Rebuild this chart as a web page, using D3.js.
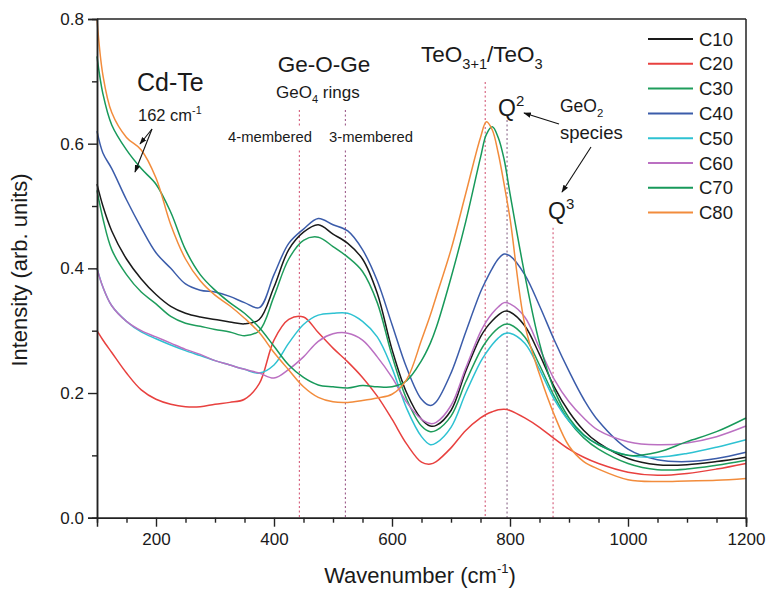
<!DOCTYPE html>
<html><head><meta charset="utf-8">
<script src="https://cdn.jsdelivr.net/npm/d3@7/dist/d3.min.js"></script>
<style>body{margin:0;background:#fff}text{font-family:"Liberation Sans",Arial,sans-serif;fill:#1a1a1a}</style>
</head><body><svg id="c" width="767" height="596"></svg>
<script>
const wavenumber = [100,110,125,150,175,200,225,250,275,300,325,350,375,400,425,450,475,500,525,550,575,600,625,650,665,675,700,725,750,760,770,780,790,800,825,850,875,900,925,950,1000,1050,1100,1150,1200];
const C10 = [0.535,0.50,0.46,0.415,0.383,0.358,0.339,0.328,0.322,0.318,0.314,0.311,0.318,0.37,0.43,0.458,0.47,0.455,0.44,0.415,0.36,0.27,0.2,0.158,0.147,0.148,0.172,0.235,0.29,0.305,0.316,0.325,0.331,0.33,0.308,0.262,0.21,0.17,0.14,0.12,0.095,0.085,0.085,0.09,0.097];
const C20 = [0.30,0.285,0.265,0.232,0.205,0.19,0.182,0.178,0.178,0.182,0.185,0.19,0.215,0.285,0.318,0.322,0.297,0.272,0.25,0.225,0.195,0.158,0.118,0.089,0.086,0.09,0.112,0.14,0.16,0.166,0.17,0.173,0.174,0.172,0.16,0.145,0.127,0.11,0.097,0.087,0.073,0.068,0.071,0.078,0.087];
const C30 = [0.525,0.48,0.43,0.39,0.362,0.343,0.323,0.312,0.307,0.302,0.298,0.292,0.30,0.355,0.415,0.445,0.45,0.435,0.418,0.395,0.345,0.26,0.19,0.147,0.138,0.14,0.163,0.218,0.268,0.283,0.295,0.304,0.31,0.31,0.29,0.245,0.195,0.155,0.128,0.11,0.087,0.077,0.078,0.084,0.092];
const C40 = [0.62,0.585,0.56,0.51,0.465,0.425,0.40,0.375,0.365,0.362,0.355,0.345,0.337,0.39,0.44,0.463,0.48,0.47,0.46,0.43,0.38,0.31,0.24,0.19,0.18,0.186,0.232,0.298,0.362,0.382,0.40,0.415,0.423,0.42,0.39,0.34,0.285,0.235,0.19,0.155,0.11,0.093,0.09,0.095,0.105];
const C50 = [0.40,0.37,0.34,0.315,0.298,0.287,0.277,0.268,0.26,0.252,0.245,0.238,0.232,0.245,0.28,0.31,0.325,0.328,0.328,0.315,0.29,0.24,0.175,0.13,0.117,0.12,0.145,0.20,0.25,0.265,0.278,0.288,0.295,0.296,0.28,0.238,0.19,0.155,0.132,0.117,0.10,0.097,0.103,0.113,0.125];
const C60 = [0.40,0.37,0.34,0.315,0.30,0.29,0.28,0.27,0.262,0.252,0.245,0.238,0.232,0.224,0.238,0.258,0.283,0.295,0.296,0.285,0.258,0.225,0.185,0.158,0.151,0.153,0.18,0.24,0.298,0.315,0.328,0.338,0.345,0.343,0.322,0.272,0.222,0.186,0.16,0.14,0.122,0.117,0.12,0.13,0.147];
const C70 = [0.74,0.68,0.63,0.59,0.56,0.535,0.49,0.43,0.39,0.365,0.345,0.328,0.305,0.275,0.245,0.225,0.213,0.21,0.208,0.212,0.21,0.21,0.22,0.252,0.28,0.305,0.385,0.475,0.578,0.615,0.627,0.61,0.575,0.52,0.39,0.28,0.205,0.16,0.133,0.117,0.10,0.105,0.122,0.138,0.16];
const C80 = [0.80,0.71,0.65,0.61,0.59,0.545,0.47,0.415,0.38,0.357,0.34,0.32,0.297,0.265,0.237,0.21,0.193,0.186,0.185,0.188,0.192,0.198,0.222,0.285,0.325,0.355,0.43,0.52,0.61,0.635,0.622,0.585,0.535,0.48,0.31,0.23,0.165,0.115,0.09,0.078,0.061,0.058,0.059,0.06,0.063];
const seriesNames = ["C10","C20","C30","C40","C50","C60","C70","C80"];
const seriesColors = ["#1a1a1a","#e8413f","#1f9d5c","#3b5caa","#2ec2d2","#bb70c2","#17995a","#f28c3c"];
const xMajorTicks = [200,400,600,800,1000,1200];
const yMajorTicks = [0.0,0.2,0.4,0.6,0.8];
const markerLines = [443,521,758,795,873];

const series = [C10,C20,C30,C40,C50,C60,C70,C80];
const svg = d3.select("#c");
const L=97,R=746,T=19,B=517.7;
const x = d3.scaleLinear().domain([100,1200]).range([L,R]);
const y = d3.scaleLinear().domain([0,0.8]).range([B,T]);

// marker dotted lines
const mk = [
 {v:markerLines[0], segs:[[0.654,0.625],[0.589,0]], c:"#d45a78"},
 {v:markerLines[1], segs:[[0.654,0.625],[0.589,0]], c:"#9c5a88"},
 {v:markerLines[2], segs:[[0.699,0]], c:"#d45a78"},
 {v:markerLines[3], segs:[[0.638,0]], c:"#8c6a8a"},
 {v:markerLines[4], segs:[[0.465,0]], c:"#d45a78"}];
mk.forEach(m=>m.segs.forEach(s=>{
  svg.append("line").attr("x1",x(m.v)).attr("x2",x(m.v)).attr("y1",y(s[0])).attr("y2",y(s[1]))
   .attr("stroke",m.c).attr("stroke-width",1.1).attr("stroke-dasharray","2,2.5");
}));

// curves
const line = d3.line().x((d,i)=>x(wavenumber[i])).y(d=>y(d)).curve(d3.curveCatmullRom.alpha(0.5));
series.forEach((s,k)=>{
  svg.append("path").attr("d",line(s)).attr("fill","none").attr("stroke",seriesColors[k]).attr("stroke-width",1.5);
});

// frame
svg.append("line").attr("x1",L).attr("x2",R).attr("y1",T).attr("y2",T).attr("stroke","#222").attr("stroke-width",1.5);
svg.append("line").attr("x1",R).attr("x2",R).attr("y1",T).attr("y2",B).attr("stroke","#222").attr("stroke-width",1.5);

// axes
const minorX = d3.range(150,1200,50).filter(v=>!xMajorTicks.includes(v));
const gx = svg.append("g").attr("transform",`translate(0,${B})`);
gx.call(d3.axisBottom(x).tickValues(minorX).tickSize(5).tickFormat(""));
const gx2 = svg.append("g").attr("transform",`translate(0,${B})`);
gx2.call(d3.axisBottom(x).tickValues(xMajorTicks).tickSize(9).tickPadding(6).tickFormat(d3.format("d")));
const minorY = [0.1,0.3,0.5,0.7];
const gy = svg.append("g").attr("transform",`translate(${L},0)`);
gy.call(d3.axisLeft(y).tickValues(minorY).tickSize(5).tickFormat(""));
const gy2 = svg.append("g").attr("transform",`translate(${L},0)`);
gy2.call(d3.axisLeft(y).tickValues(yMajorTicks).tickSize(9).tickPadding(4).tickFormat(d3.format(".1f")));
[gx,gx2,gy,gy2].forEach(g=>{
  g.selectAll("path").attr("stroke","#222").attr("stroke-width",1.5);
  g.selectAll("line").attr("stroke","#222").attr("stroke-width",1.4);
  g.selectAll("text").attr("font-size",17).attr("font-family","Liberation Sans, Arial, sans-serif").attr("fill","#222");
});

// axis titles
const xt = svg.append("text").attr("x",420).attr("y",583).attr("text-anchor","middle").attr("font-size",22);
xt.append("tspan").text("Wavenumber (cm");
xt.append("tspan").text("-1").attr("font-size",13).attr("dy",-10);
xt.append("tspan").text(")").attr("dy",10);
svg.append("text").attr("transform","translate(27,270) rotate(-90)").attr("text-anchor","middle").attr("font-size",22).text("Intensity (arb. units)");

// legend
seriesNames.forEach((n,i)=>{
  const yy = 39 + i*24.8;
  svg.append("line").attr("x1",648).attr("x2",693).attr("y1",yy).attr("y2",yy).attr("stroke",seriesColors[i]).attr("stroke-width",2);
  svg.append("text").attr("x",699).attr("y",yy+6.5).attr("font-size",18.5).text(n);
});

// annotations
function t(xp,yp,fs,parts,anchor){
  const el = svg.append("text").attr("x",xp).attr("y",yp).attr("font-size",fs).attr("text-anchor",anchor||"start");
  let cur=0;
  parts.forEach(p=>{
    const sp = el.append("tspan").text(p.s);
    const target = p.sub? fs*0.3 : p.sup? -fs*0.45 : 0;
    if(target!==cur){ sp.attr("dy",target-cur); cur=target; }
    if(p.sub||p.sup) sp.attr("font-size",fs*0.65);
  });
  return el;
}
t(137,91,25,[{s:"Cd-Te"}]);
t(138,121,16.5,[{s:"162 cm"},{s:"-1",sup:1}]);
t(324,72,22.5,[{s:"Ge-O-Ge"}],"middle");
t(276,98,17,[{s:"GeO"},{s:"4",sub:1},{s:" rings"}]);
t(228,142,14.8,[{s:"4-membered"}]);
t(329,142,14.8,[{s:"3-membered"}]);
t(421,62,22.5,[{s:"TeO"},{s:"3+1",sub:1},{s:"/TeO"},{s:"3",sub:1}]);
t(498,116,23,[{s:"Q"},{s:"2",sup:1}]);
t(560,112,17.5,[{s:"GeO"},{s:"2",sub:1}]);
t(560,139,18.5,[{s:"species"}]);
t(548,219,23,[{s:"Q"},{s:"3",sup:1}]);

// arrows
svg.append("defs").append("marker").attr("id","ah").attr("viewBox","0 0 10 10").attr("refX",9).attr("refY",5)
  .attr("markerWidth",7).attr("markerHeight",7).attr("orient","auto-start-reverse")
  .append("path").attr("d","M0,1.5 L10,5 L0,8.5 Z").attr("fill","#111");
[[152,129,140,144],[152,129,135,172],[559,124,524,113],[591,147,562,192]].forEach(a=>{
  svg.append("line").attr("x1",a[0]).attr("y1",a[1]).attr("x2",a[2]).attr("y2",a[3])
    .attr("stroke","#111").attr("stroke-width",1.1).attr("marker-end","url(#ah)");
});
</script></body></html>
